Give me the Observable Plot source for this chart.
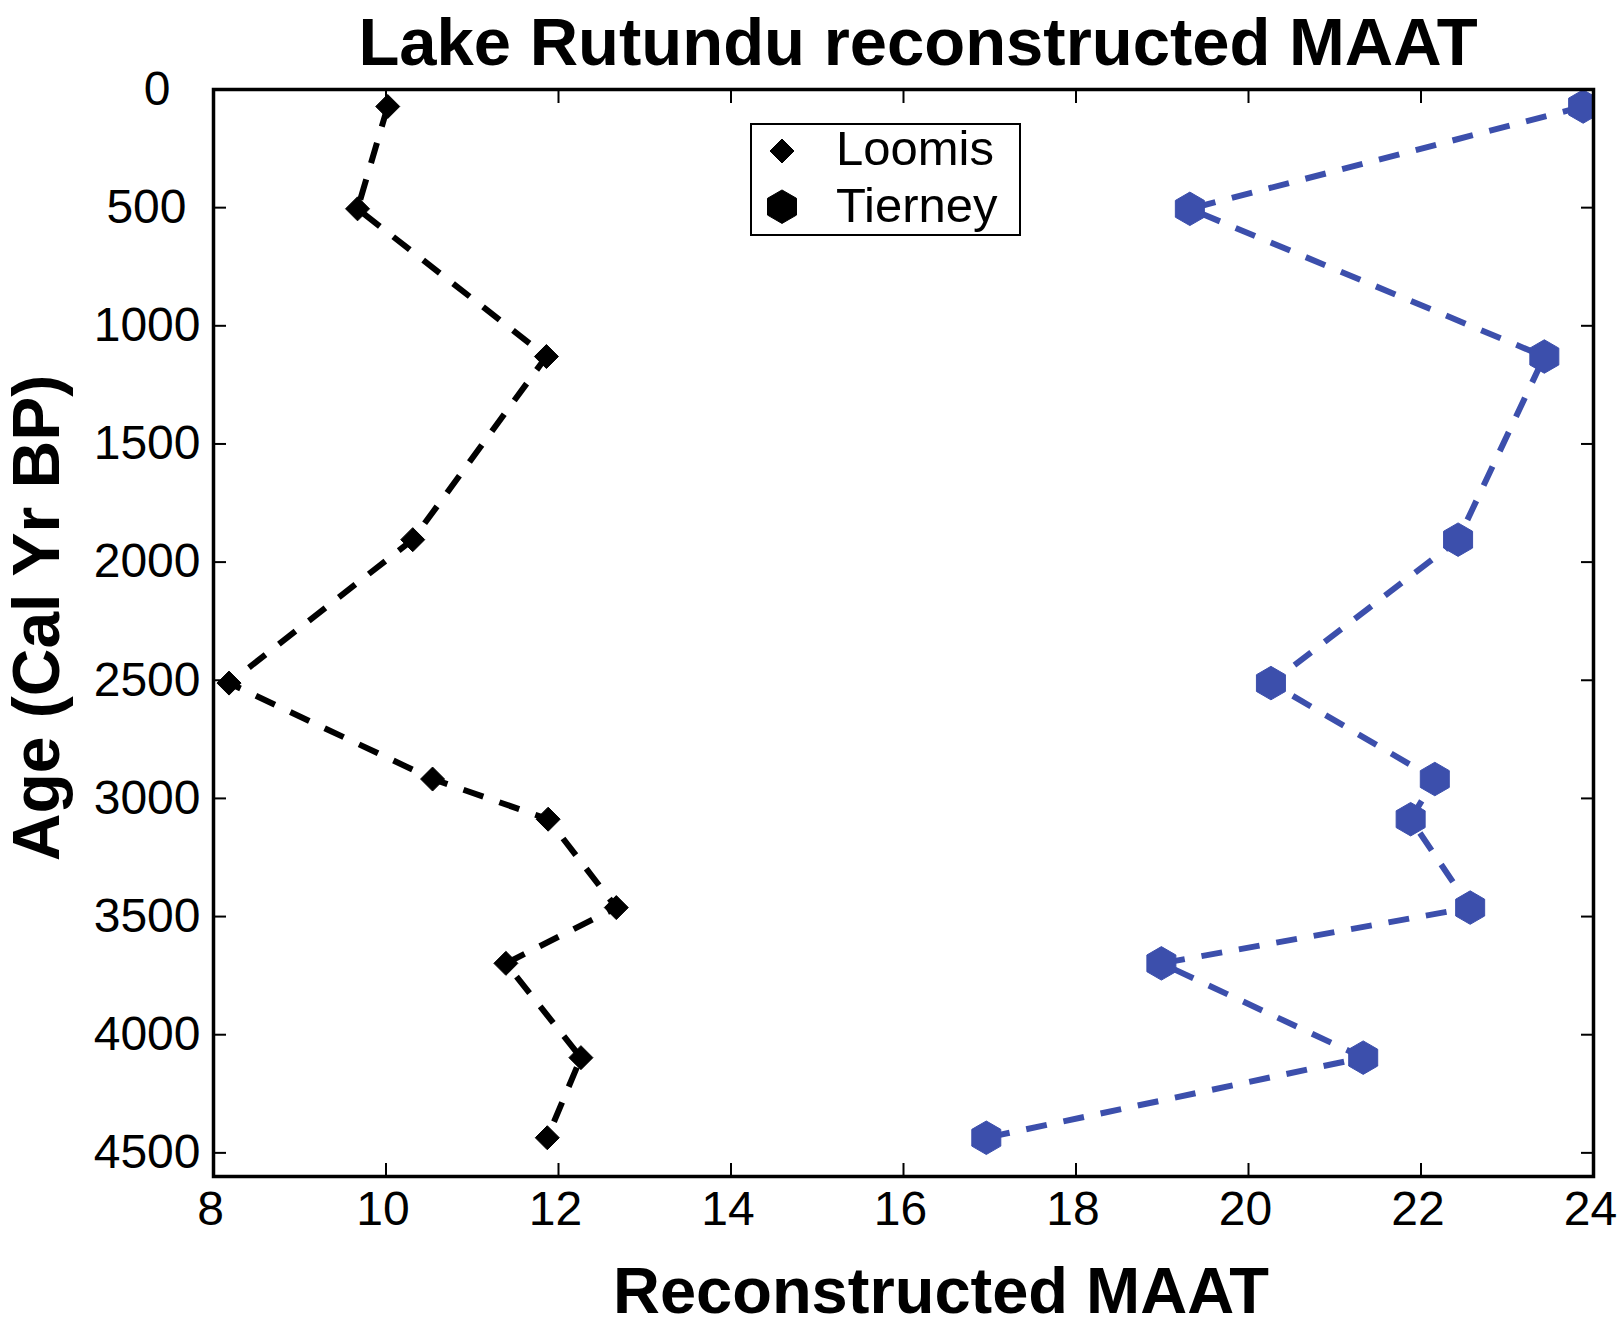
<!DOCTYPE html>
<html>
<head>
<meta charset="utf-8">
<script src="https://cdn.jsdelivr.net/npm/d3@7"></script>
<script src="https://cdn.jsdelivr.net/npm/@observablehq/plot@0.6"></script>
<style>
  html, body { margin: 0; padding: 0; background: #fff; }
  #wrap { position: relative; width: 1620px; height: 1328px; background: #fff; overflow: hidden;
          font-family: "Liberation Sans", Arial, Helvetica, sans-serif; color: #000; }
  #title { position: relative; height: 56px; }
  #title span { position: absolute; left: 918px; top: 8px; transform: translateX(-50%);
                font-weight: bold; font-size: 67px; line-height: 1; white-space: nowrap; }
  #xlabel { position: absolute; left: 941px; top: 1258px; transform: translateX(-50%);
            font-weight: bold; font-size: 65px; line-height: 1; white-space: nowrap; }
  #legend { position: absolute; left: 750px; top: 123px; width: 271px; height: 113px;
            border: 2px solid #000; box-sizing: border-box; background: #fff; }
  #legend svg { display: block; overflow: visible; }
</style>
</head>
<body>
<div id="wrap">
  <div id="title"><span></span></div>
  <div id="chart"></div>
  <div id="xlabel"></div>
  <div id="legend"></div>
</div>
<script>
// ---- data ----
const titleText = "Lake Rutundu reconstructed MAAT";
const xLabel = "Reconstructed MAAT";
const yLabel = "Age (Cal Yr BP)";
const seriesNames = ["Loomis", "Tierney"];
const ages    = [72, 505, 1130, 1905, 2512, 2918, 3088, 3462, 3698, 4097, 4436];
const loomis  = [10.02, 9.67, 11.86, 10.31, 8.18, 10.54, 11.88, 12.67, 11.39, 12.26, 11.87];
const tierney = [23.88, 19.32, 23.43, 22.43, 20.26, 22.16, 21.88, 22.57, 18.99, 21.33, 16.96];
const xTicks = [8, 10, 12, 14, 16, 18, 20, 22, 24];
const yTicks = [0, 500, 1000, 1500, 2000, 2500, 3000, 3500, 4000, 4500];
const xDomain = [8, 24];
const yDomain = [0, 4600];

// ---- styling ----
const FONT = "'Liberation Sans', Arial, Helvetica, sans-serif";
const BLUE = "#3c4fac";
const dash = "21,17";
const DIAMOND_R = 12;
const HEX_R = 14.5;

// custom marker shapes (size = PI * r^2)
const diamond = { draw(ctx, size) { const r = Math.sqrt(size / Math.PI);
  ctx.moveTo(0, -r); ctx.lineTo(r, 0); ctx.lineTo(0, r); ctx.lineTo(-r, 0); ctx.closePath(); } };
const hexagon = { draw(ctx, size) { const rx = Math.sqrt(size / Math.PI), ry = rx * 2 / Math.sqrt(3), hy = ry / 2;
  ctx.moveTo(0, -ry); ctx.lineTo(rx, -hy); ctx.lineTo(rx, hy); ctx.lineTo(0, ry);
  ctx.lineTo(-rx, hy); ctx.lineTo(-rx, -hy); ctx.closePath(); } };

const rowsL = ages.map((a, i) => ({age: a, maat: loomis[i]}));
const rowsT = ages.map((a, i) => ({age: a, maat: tierney[i]}));
const fmt = d => String(d);

document.querySelector("#title span").textContent = titleText;
document.getElementById("xlabel").textContent = xLabel;

const chart = Plot.plot({
  width: 1620,
  height: 1272,
  marginLeft: 213,
  marginRight: 27,
  marginTop: 33,
  marginBottom: 152,
  x: {domain: xDomain},
  y: {domain: yDomain, reverse: true},
  style: {fontFamily: FONT, fontSize: "48px", color: "black", background: "white", overflow: "visible"},
  marks: [
    Plot.line(rowsL, {x: "maat", y: "age", stroke: "black", strokeWidth: 6, strokeDasharray: dash, strokeLinecap: "butt", strokeLinejoin: "miter"}),
    Plot.line(rowsT, {x: "maat", y: "age", stroke: BLUE, strokeWidth: 6, strokeDasharray: dash, strokeLinecap: "butt", strokeLinejoin: "miter"}),
    Plot.dot(rowsL, {x: "maat", y: "age", symbol: diamond, r: DIAMOND_R, fill: "black", stroke: "black", strokeWidth: 1, clip: true}),
    Plot.dot(rowsT, {x: "maat", y: "age", symbol: hexagon, r: HEX_R, fill: BLUE, stroke: BLUE, strokeWidth: 1, clip: true}),
    // inward ticks on all four sides
    Plot.axisX(xTicks, {anchor: "bottom", tickSize: -13, strokeWidth: 2, tickFormat: () => "", label: null}),
    Plot.axisX(xTicks, {anchor: "top", tickSize: -13, strokeWidth: 2, tickFormat: () => "", label: null}),
    Plot.axisY(yTicks, {anchor: "left", tickSize: -13, strokeWidth: 2, tickFormat: () => "", label: null}),
    Plot.axisY(yTicks, {anchor: "right", tickSize: -13, strokeWidth: 2, tickFormat: () => "", label: null}),
    // tick labels
    Plot.axisX(xTicks, {anchor: "bottom", tickSize: 0, tickPadding: 14, dx: -3, tickFormat: fmt, label: null, fontSize: 48}),
    Plot.axisY(yTicks.filter(v => v >= 1000), {anchor: "left", tickSize: 0, tickPadding: 13, tickFormat: fmt, label: null, fontSize: 48}),
    Plot.axisY(yTicks.filter(v => v >= 100 && v < 1000), {anchor: "left", tickSize: 0, tickPadding: 27, tickFormat: fmt, label: null, fontSize: 48}),
    Plot.axisY(yTicks.filter(v => v < 100), {anchor: "left", tickSize: 0, tickPadding: 43, tickFormat: fmt, label: null, fontSize: 48}),
    Plot.frame({stroke: "black", strokeWidth: 3.5}),
    // y axis title
    Plot.text([yLabel], {text: d => d, frameAnchor: "left", textAnchor: "middle", dx: -176, dy: -15, rotate: -90, lineAnchor: "middle", fontSize: 66, fontWeight: "bold", fill: "black"})
  ]
});
document.getElementById("chart").appendChild(chart);

// ---- legend (inside axes, top) ----
const legendEntries = [
  {name: seriesNames[0], symbol: diamond, r: DIAMOND_R},
  {name: seriesNames[1], symbol: hexagon, r: HEX_R}
];
const lsvg = d3.select("#legend").append("svg").attr("width", 267).attr("height", 109);
legendEntries.forEach((e, i) => {
  const p = d3.path();
  e.symbol.draw(p, Math.PI * e.r * e.r);
  lsvg.append("path").attr("d", p.toString()).attr("fill", "black").attr("stroke", "black").attr("stroke-width", 1)
    .attr("transform", `translate(30,${26 + i * 55.7})`);
  lsvg.append("text").attr("x", 84).attr("y", 40 + i * 56.7)
    .attr("font-family", FONT).attr("font-size", 49).attr("fill", "black").text(e.name);
});
</script>
</body>
</html>
